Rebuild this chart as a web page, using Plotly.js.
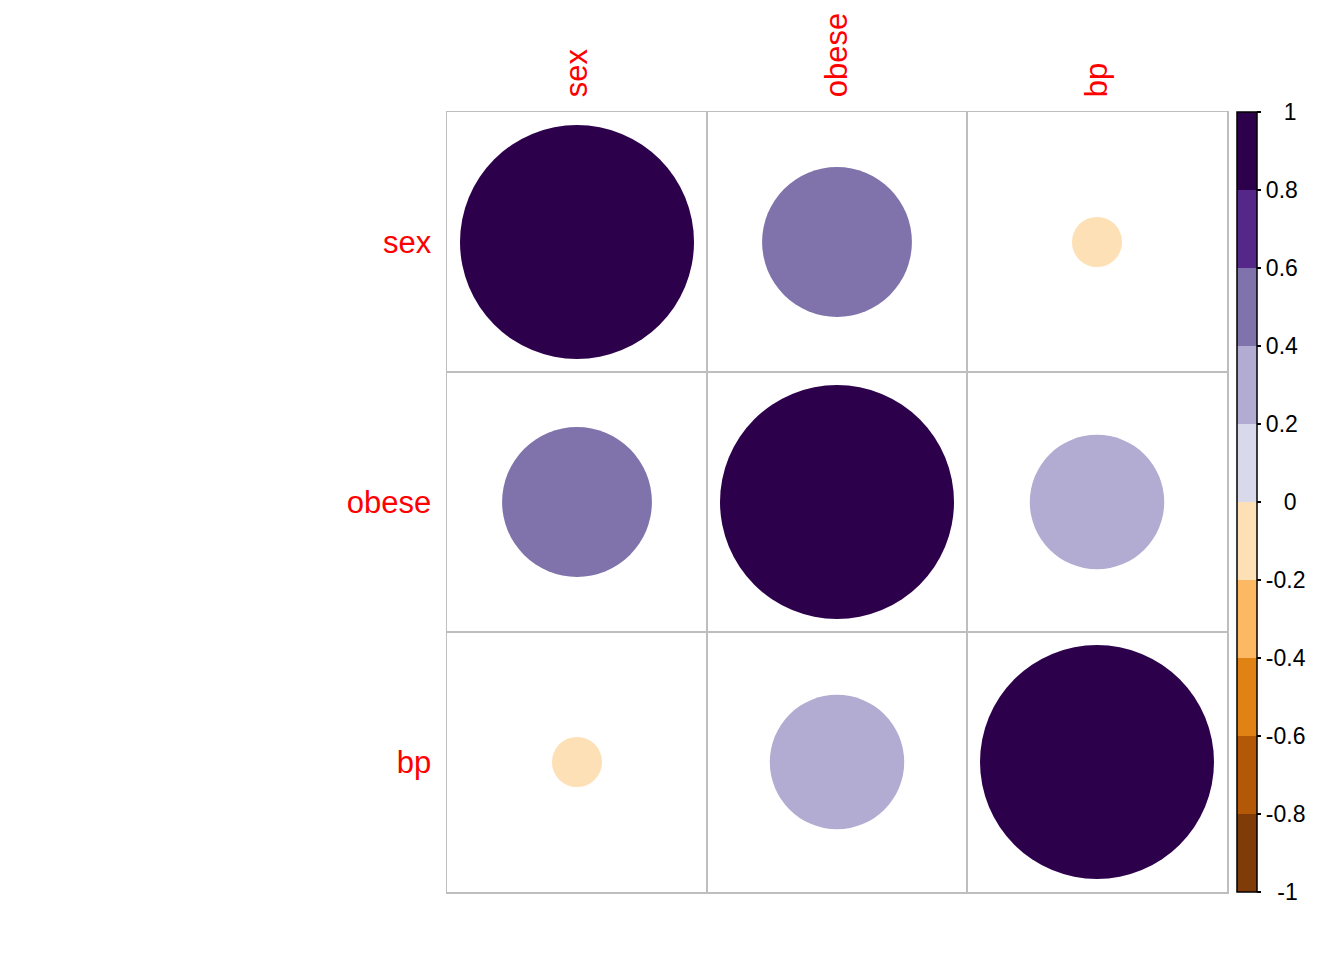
<!DOCTYPE html>
<html>
<head>
<meta charset="utf-8">
<script src="https://cdn.plot.ly/plotly-3.0.1.min.js"></script>
<style>html,body{margin:0;padding:0;background:#fff;}#chart{width:1344px;height:960px;}</style>
</head>
<body>
<div id="chart"></div>
<script>
const vars = ['sex', 'obese', 'bp'];
const rowSex = [1.0, 0.41, -0.046];
const rowObese = [0.41, 1.0, 0.33];
const rowBp = [-0.046, 0.33, 1.0];
const corr = [rowSex, rowObese, rowBp];
const binColors = ['#7F3B08', '#B35806', '#E08214', '#FDB863', '#FEE0B6',
                   '#D8DAEB', '#B2ABD2', '#8073AC', '#542788', '#2D004B'];
const barTicks = [1, 0.8, 0.6, 0.4, 0.2, 0, -0.2, -0.4, -0.6, -0.8, -1];
const barLabels = ['\u2002\u00a01', '0.8', '0.6', '0.4', '0.2', '\u2002\u00a00',
                   '-0.2', '-0.4', '-0.6', '-0.8', '\u2002-1'];

const colorscale = [];
binColors.forEach((c, i) => {
  colorscale.push([i / 10, c]);
  colorscale.push([(i + 1) / 10, c]);
});

const xs = [], ys = [], vals = [], sizes = [];
const cellPx = 260;
for (let r = 0; r < vars.length; r++) {
  for (let c = 0; c < vars.length; c++) {
    xs.push(c + 1);
    ys.push(r + 1);
    vals.push(corr[r][c]);
    sizes.push(0.9 * cellPx * Math.sqrt(Math.abs(corr[r][c])));
  }
}

const trace = {
  type: 'scatter',
  mode: 'markers',
  x: xs, y: ys,
  hoverinfo: 'skip',
  marker: {
    size: sizes,
    sizemode: 'diameter',
    color: vals,
    cmin: -1, cmax: 1,
    colorscale: colorscale,
    line: {width: 0},
    opacity: 1,
    showscale: true,
    colorbar: {
      x: 1.0128, xanchor: 'left', xpad: 0,
      y: 0.5, yanchor: 'middle', len: 1, ypad: 0,
      thickness: 20,
      outlinewidth: 1.5, outlinecolor: '#000',
      tickmode: 'array', tickvals: barTicks, ticktext: barLabels,
      ticks: 'outside', ticklen: 4, tickwidth: 1.2, tickcolor: '#000',
      tickfont: {family: 'Liberation Sans, Arial, sans-serif', size: 23, color: '#000'}
    }
  }
};

const layout = {
  width: 1344, height: 960,
  margin: {l: 447, r: 117, t: 112, b: 68, pad: 0},
  paper_bgcolor: '#fff', plot_bgcolor: '#fff',
  showlegend: false,
  font: {family: 'Liberation Sans, Arial, sans-serif'},
  xaxis: {
    range: [0.5, 3.5], side: 'top', tickmode: 'array', tickvals: [1, 2, 3], ticktext: vars,
    tickangle: -90, ticks: '', showgrid: false, zeroline: false,
    showline: true, mirror: true, linecolor: '#BEBEBE', linewidth: 1.5,
    minor: {tick0: 0.5, dtick: 1, showgrid: true, gridcolor: '#BEBEBE', gridwidth: 1.5, ticks: ''},
    tickfont: {size: 31, color: '#FF0000'}, ticklabelstandoff: 7, fixedrange: true
  },
  yaxis: {
    range: [3.5, 0.5], tickmode: 'array', tickvals: [1, 2, 3], ticktext: vars,
    ticks: '', showgrid: false, zeroline: false,
    showline: true, mirror: true, linecolor: '#BEBEBE', linewidth: 1.5,
    minor: {tick0: 0.5, dtick: 1, showgrid: true, gridcolor: '#BEBEBE', gridwidth: 1.5, ticks: ''},
    tickfont: {size: 31, color: '#FF0000'}, ticklabelstandoff: 8, fixedrange: true
  }
};

Plotly.newPlot('chart', [trace], layout, {displayModeBar: false, staticPlot: true});
</script>
</body>
</html>
